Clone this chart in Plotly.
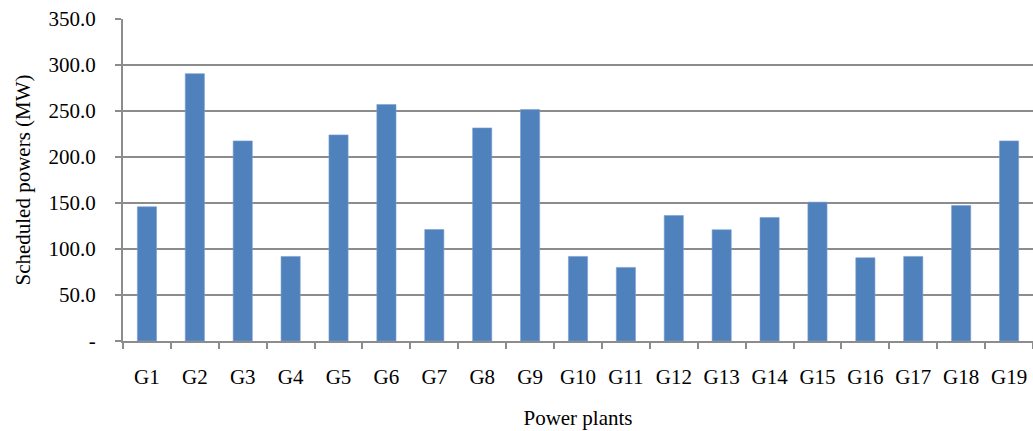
import plotly.graph_objects as go

plants = ["G1", "G2", "G3", "G4", "G5", "G6", "G7", "G8", "G9", "G10",
          "G11", "G12", "G13", "G14", "G15", "G16", "G17", "G18", "G19"]
powers = [145.9, 290.6, 217.5, 91.9, 224.0, 257.0, 121.2, 231.6, 251.5, 91.9,
          80.0, 136.4, 120.9, 134.3, 150.9, 90.5, 91.9, 147.3, 217.5]
y_ticks = [0, 50, 100, 150, 200, 250, 300, 350]
y_tick_text = ["-", "50.0", "100.0", "150.0", "200.0", "250.0", "300.0", "350.0"]

FONT = "Times New Roman, Liberation Serif, DejaVu Serif, serif"
GRID = "#8c8c8c"

fig = go.Figure(go.Bar(
    x=plants, y=powers,
    marker=dict(color="#4F81BD", line=dict(color="#7A9FD0", width=0.6)),
    width=0.4,
))

fig.update_layout(
    width=1033, height=431,
    margin=dict(l=123, r=0, t=19, b=90),
    paper_bgcolor="white", plot_bgcolor="white",
    font=dict(family=FONT, size=21, color="black"),
    showlegend=False,
)
fig.update_xaxes(
    type="category",
    showline=True, linecolor=GRID, linewidth=2,
    ticks="outside", ticklen=6, tickcolor=GRID, tickwidth=2,
    tickson="boundaries",
    showgrid=False,
    ticklabelstandoff=16,
    title=dict(text="Power plants", standoff=22, font=dict(family=FONT, size=21)),
    range=[-0.5, 18.5],
)
fig.update_yaxes(
    range=[0, 350],
    tickvals=y_ticks, ticktext=y_tick_text,
    showline=True, linecolor=GRID, linewidth=2,
    ticks="outside", ticklen=6, tickcolor=GRID, tickwidth=2,
    showgrid=True, gridcolor=GRID, gridwidth=1.5,
    zeroline=False,
    ticklabelstandoff=15,
    title=dict(text="Scheduled powers (MW)", standoff=12, font=dict(family=FONT, size=21)),
)

fig.write_html("out.html")
